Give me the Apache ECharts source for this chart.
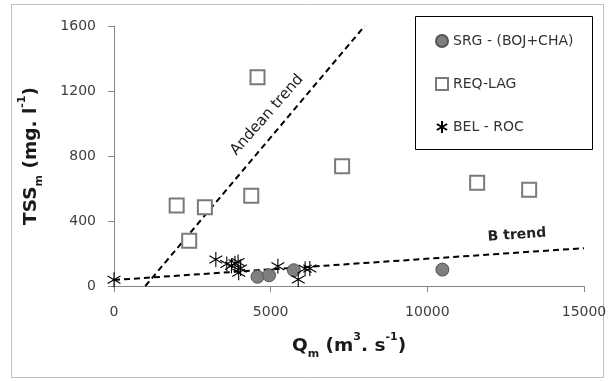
<!DOCTYPE html>
<html>
<head>
<meta charset="utf-8">
<script src="https://cdn.jsdelivr.net/npm/echarts@6/dist/echarts.min.js"></script>
<style>html,body{margin:0;padding:0;background:#fff;}#c{width:610px;height:381px;}</style>
</head>
<body>
<div id="c"></div>
<script>
// Data
const srg = [[4580, 57], [4950, 66], [5740, 97], [10480, 101]];
const reqLag = [[2000, 495], [2900, 485], [2400, 278], [4580, 1285], [4380, 556], [7280, 737], [11590, 636], [13250, 592]];
const belRoc = [[0, 38], [3250, 163], [3600, 136], [3750, 124], [3860, 140], [3960, 148], [3980, 82], [4040, 108], [5230, 122], [5880, 40], [6100, 106], [6250, 108]];
const andeanTrend = [[1000, 0], [8000, 1600]];
const bTrend = [[0, 37], [15000, 233]];
const xTicks = [0, 5000, 10000, 15000];
const yTicks = [0, 400, 800, 1200, 1600];

const FONT = 'DejaVu Sans';
const star = 'path://M5 0 L5 10 M0.7 2.5 L9.3 7.5 M9.3 2.5 L0.7 7.5';

const titleRich = {
  b: {fontFamily: FONT, fontWeight: 'bold', fontSize: 18.5, color: '#1a1a1a', lineHeight: 28, verticalAlign: 'middle'},
  sub: {fontFamily: FONT, fontWeight: 'bold', fontSize: 11, color: '#1a1a1a', lineHeight: 28, verticalAlign: 'bottom'},
  sup: {fontFamily: FONT, fontWeight: 'bold', fontSize: 11, color: '#1a1a1a', lineHeight: 28, verticalAlign: 'top'}
};

const chart = echarts.init(document.getElementById('c'), null, {renderer: 'canvas'});
chart.setOption({
  animation: false,
  backgroundColor: '#fff',
  grid: {left: 114, right: 26, top: 26, bottom: 95, containLabel: false},
  xAxis: {
    type: 'value', min: xTicks[0], max: xTicks[xTicks.length - 1], interval: 5000,
    axisLine: {show: true, lineStyle: {color: '#868686', width: 1}},
    axisTick: {show: true, length: 6, lineStyle: {color: '#868686'}},
    splitLine: {show: false},
    axisLabel: {margin: 19, fontFamily: FONT, fontSize: 14, color: '#3f3f3f', formatter: v => String(v)},
    name: '{b|Q}{sub|m}{b| (m}{sup|3}{b|. s}{sup|-1}{b|)}',
    nameLocation: 'middle', nameGap: 46,
    nameTextStyle: {rich: titleRich}
  },
  yAxis: {
    type: 'value', min: yTicks[0], max: yTicks[yTicks.length - 1], interval: 400,
    axisLine: {show: true, lineStyle: {color: '#868686', width: 1}},
    axisTick: {show: true, length: 6, lineStyle: {color: '#868686'}},
    splitLine: {show: false},
    axisLabel: {margin: 18, fontFamily: FONT, fontSize: 14, color: '#3f3f3f', formatter: v => String(v)},
    name: '{b|TSS}{sub|m}{b| (mg. l}{sup|-1}{b|)}',
    nameLocation: 'middle', nameGap: 69, nameRotate: 90,
    nameTextStyle: {rich: titleRich}
  },
  legend: {
    orient: 'vertical', left: 430, top: 29, itemGap: 29, itemWidth: 12, itemHeight: 12,
    textStyle: {fontFamily: FONT, fontSize: 14, color: '#333'},
    data: [
      {name: 'SRG - (BOJ+CHA)'},
      {name: 'REQ-LAG'},
      {name: 'BEL - ROC'}
    ]
  },
  graphic: [
    {type: 'rect', shape: {x: 11.5, y: 4.5, width: 592, height: 373}, style: {fill: null, stroke: '#bfbfbf', lineWidth: 1}, z: -1, silent: true},
    {type: 'rect', shape: {x: 415.5, y: 16.5, width: 177, height: 133}, style: {fill: '#fff', stroke: '#000', lineWidth: 1}, z: 0, silent: true},
    {type: 'text', x: 267, y: 115, rotation: 0.85, style: {text: 'Andean trend', fontFamily: FONT, fontSize: 15, fill: '#222', align: 'center', verticalAlign: 'middle'}, z: 10},
    {type: 'text', x: 517, y: 235, rotation: 0.07, style: {text: 'B trend', fontFamily: FONT, fontSize: 14, fontWeight: 'bold', fill: '#222', align: 'center', verticalAlign: 'middle'}, z: 10}
  ],
  series: [
    {
      name: 'Andean trend line', type: 'line', data: andeanTrend, showSymbol: false, symbol: 'none',
      lineStyle: {color: '#000', width: 2, type: [6, 4]}, z: 1, silent: true
    },
    {
      name: 'B trend line', type: 'line', data: bTrend, showSymbol: false, symbol: 'none',
      lineStyle: {color: '#000', width: 2, type: [6, 4]}, z: 1, silent: true
    },
    {
      name: 'SRG - (BOJ+CHA)', type: 'scatter', data: srg, symbol: 'circle', symbolSize: 13,
      itemStyle: {color: '#7f7f7f', borderColor: '#555', borderWidth: 1, opacity: 1}, z: 3
    },
    {
      name: 'REQ-LAG', type: 'scatter', data: reqLag, symbol: 'rect', symbolSize: 14,
      itemStyle: {color: '#fff', borderColor: '#7a7a7a', borderWidth: 2, opacity: 1}, z: 3
    },
    {
      name: 'BEL - ROC', type: 'scatter', data: belRoc, symbol: star, symbolSize: 15, symbolKeepAspect: true,
      itemStyle: {color: 'rgba(0,0,0,0)', borderColor: '#000', borderWidth: 1.1, opacity: 1}, z: 4
    }
  ]
});
</script>
</body>
</html>
